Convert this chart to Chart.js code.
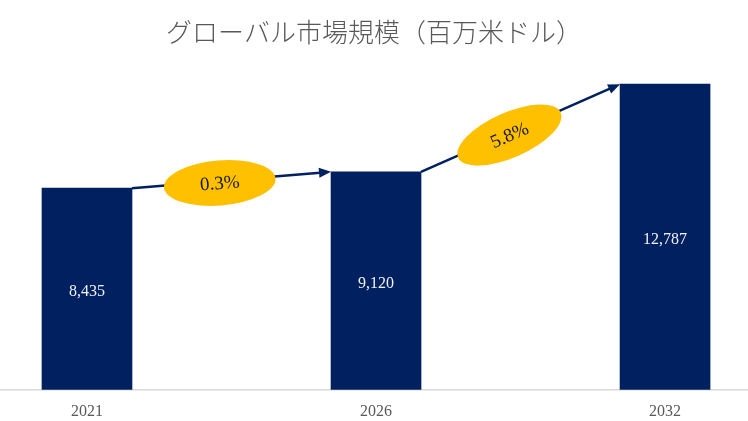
<!DOCTYPE html>
<html>
<head>
<meta charset="utf-8">
<script src="https://cdn.jsdelivr.net/npm/chart.js@4"></script>
<style>
  body { margin: 0; background: #fff; }
  #wrap { width: 748px; height: 421px; position: relative; }
</style>
</head>
<body>
<div id="wrap"><canvas id="marketChart"></canvas></div>
<script>
// values
var years = ['2021', '2026', '2032'];
var marketSize = [8435, 9120, 12787];
var cagrLabels = ['0.3%', '5.8%'];

var barColor = '#002060';
var serif = '"Liberation Serif", "DejaVu Serif", serif';

// white value labels in the middle of each bar
var barValuePlugin = {
    id: 'barValues',
    afterDatasetsDraw: function (chart) {
        var ctx = chart.ctx;
        var meta = chart.getDatasetMeta(0);
        var base = chart.scales.y.getPixelForValue(0);
        ctx.save();
        ctx.fillStyle = '#f2f2f2';
        ctx.font = '16px ' + serif;
        ctx.textAlign = 'center';
        ctx.textBaseline = 'middle';
        meta.data.forEach(function (bar, i) {
            ctx.fillText(marketSize[i].toLocaleString('en-US'), bar.x, (bar.y + base) / 2 + 3);
        });
        ctx.restore();
    }
};

// arrows between bar tops, with a yellow ellipse holding the growth rate
var growthArrowPlugin = {
    id: 'growthArrows',
    afterDatasetsDraw: function (chart) {
        var ctx = chart.ctx;
        var bars = chart.getDatasetMeta(0).data;
        ctx.save();
        for (var i = 0; i < bars.length - 1; i++) {
            var a = bars[i], b = bars[i + 1];
            var x1 = a.x + a.width / 2, y1 = a.y;
            var x2 = b.x - b.width / 2, y2 = b.y;
            var ang = Math.atan2(y2 - y1, x2 - x1);

            ctx.strokeStyle = barColor;
            ctx.fillStyle = barColor;
            ctx.lineWidth = 2.5;
            ctx.beginPath();
            ctx.moveTo(x1, y1);
            ctx.lineTo(x2 - 8 * Math.cos(ang), y2 - 8 * Math.sin(ang));
            ctx.stroke();

            // arrow head
            ctx.beginPath();
            ctx.moveTo(x2, y2);
            ctx.lineTo(x2 - 12 * Math.cos(ang) + 5 * Math.sin(ang), y2 - 12 * Math.sin(ang) - 5 * Math.cos(ang));
            ctx.lineTo(x2 - 12 * Math.cos(ang) - 5 * Math.sin(ang), y2 - 12 * Math.sin(ang) + 5 * Math.cos(ang));
            ctx.closePath();
            ctx.fill();

            // ellipse a bit before the middle of the arrow
            var t = 0.44;
            var cx = x1 + (x2 - x1) * t - 2 * Math.sin(ang);
            var cy = y1 + (y2 - y1) * t + 2 * Math.cos(ang);
            ctx.save();
            ctx.translate(cx, cy);
            ctx.rotate(ang);
            ctx.fillStyle = '#FFC000';
            ctx.beginPath();
            ctx.ellipse(0, 0, 56, 22.5, 0, 0, Math.PI * 2);
            ctx.fill();
            ctx.fillStyle = '#1a1a1a';
            ctx.font = '19px ' + serif;
            ctx.textAlign = 'center';
            ctx.textBaseline = 'middle';
            ctx.fillText(cagrLabels[i], 0, 1);
            ctx.restore();
        }
        ctx.restore();
    }
};

var ctx = document.getElementById('marketChart').getContext('2d');
var marketChart = new Chart(ctx, {
    type: 'bar',
    data: {
        datasets: [{
            data: marketSize.map(function (v, i) { return { x: i, y: v }; }),
            backgroundColor: barColor,
            barThickness: 90
        }]
    },
    options: {
        responsive: true,
        maintainAspectRatio: false,
        animation: false,
        layout: { padding: { left: 0, right: 0, top: 0, bottom: -12 } },
        plugins: {
            legend: { display: false },
            tooltip: { enabled: false },
            title: {
                display: true,
                text: 'グローバル市場規模（百万米ドル）',
                color: '#595959',
                font: { family: '"Noto Sans CJK JP", sans-serif', size: 26, weight: '300' },
                padding: { top: 17, bottom: 7 }
            }
        },
        scales: {
            x: {
                type: 'linear',
                offset: false,
                min: -0.301,
                max: 2.287,
                grid: { display: false, drawTicks: false },
                border: { display: true, color: '#d9d9d9', width: 1.5 },
                ticks: {
                    stepSize: 1,
                    includeBounds: false,
                    autoSkip: false,
                    maxRotation: 0,
                    padding: 12,
                    color: '#595959',
                    font: { family: serif, size: 16 },
                    callback: function (value) {
                        return Number.isInteger(value) ? years[value] : '';
                    }
                }
            },
            y: {
                display: false,
                min: 0,
                max: 14000
            }
        }
    },
    plugins: [barValuePlugin, growthArrowPlugin]
});
</script>
</body>
</html>
